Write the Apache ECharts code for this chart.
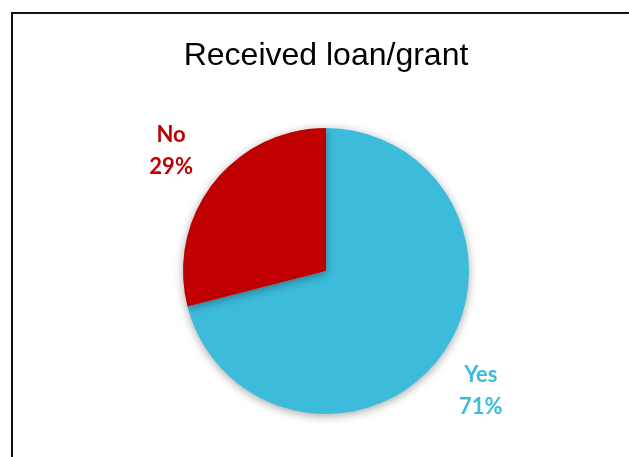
<!DOCTYPE html>
<html>
<head>
<meta charset="utf-8">
<script src="https://cdn.jsdelivr.net/npm/echarts@6/dist/echarts.min.js"></script>
<style>
  html, body { margin: 0; padding: 0; background: #fff; }
  #chart { width: 629px; height: 457px; }
</style>
</head>
<body>
<div id="chart"></div>
<script>
const titleText = 'Received loan/grant';
const categories = ['Yes', 'No'];
const values = [71, 29];
const colors = ['#3DBBDB', '#C00000'];

const chart = echarts.init(document.getElementById('chart'), null, { renderer: 'canvas' });

const pieData = categories.map((c, i) => ({
  name: c, value: values[i], itemStyle: { color: colors[i] }
}));
const labelData = categories.map((c, i) => ({
  name: c, value: values[i],
  itemStyle: { color: 'rgba(0,0,0,0)' },
  label: { color: colors[i] }
}));

chart.setOption({
  animation: false,
  backgroundColor: '#fff',
  title: {
    text: titleText,
    left: 321,
    top: 35,
    textAlign: 'center',
    textStyle: {
      fontFamily: '"Liberation Sans", Arial, sans-serif',
      fontSize: 32,
      fontWeight: 'normal',
      color: '#000'
    }
  },
  graphic: [{
    type: 'polyline',
    shape: { points: [[12, 470], [12, 13], [640, 13]] },
    style: { stroke: '#111', lineWidth: 2, fill: null },
    silent: true
  }],
  series: [{
    type: 'pie',
    center: [326, 271],
    radius: 143,
    startAngle: 90,
    clockwise: true,
    silent: true,
    label: { show: false },
    labelLine: { show: false },
    itemStyle: {
      shadowBlur: 10,
      shadowColor: 'rgba(0,0,0,0.35)',
      shadowOffsetY: 2
    },
    data: pieData
  }, {
    type: 'pie',
    center: [326, 271],
    radius: [186, 200],
    startAngle: 90,
    clockwise: true,
    silent: true,
    label: {
      show: true,
      position: 'inside',
      formatter: p => p.name + '\n' + Math.round(p.percent) + '%',
      fontFamily: 'Lato, "Open Sans", sans-serif',
      fontWeight: 'bold',
      fontSize: 22,
      lineHeight: 32
    },
    labelLine: { show: false },
    data: labelData
  }]
});
</script>
</body>
</html>
